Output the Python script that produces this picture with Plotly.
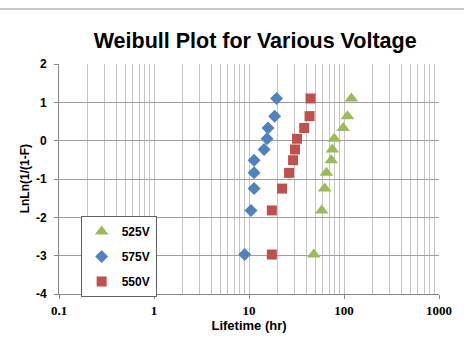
import plotly.graph_objects as go

# Lifetime (hr) and LnLn(1/(1-F))
t_525 = [48.1, 58.3, 62.6, 65.3, 73.6, 75.4, 79.0, 98.1, 108.7, 119.7]
t_575 = [9.0, 10.5, 11.3, 11.3, 11.3, 14.4, 15.5, 15.85, 18.6, 19.5]
t_550 = [17.4, 17.4, 22.3, 26.4, 29.1, 30.5, 32.0, 38.1, 43.4, 44.4]
y_vals = [-2.97, -1.82, -1.25, -0.84, -0.51, -0.23, 0.05, 0.33, 0.64, 1.10]

series_names = ["525V", "575V", "550V"]
series_times = [t_525, t_575, t_550]
series_colors = ["#9BBB59", "#4F81BD", "#C0504D"]
series_symbols = ["triangle-up", "diamond", "square"]
series_sizes = [12, 10, 10]

x_ticks = [0.1, 1, 10, 100, 1000]
x_ticklabels = ["0.1", "1", "10", "100", "1000"]
y_ticks = [2, 1, 0, -1, -2, -3, -4]

fig = go.Figure()
for i, (name, t, c, s, sz) in enumerate(zip(series_names, series_times, series_colors,
                                           series_symbols, series_sizes)):
    fig.add_trace(go.Scatter(
        x=t, y=y_vals, mode="markers", name=f"<b>{name}</b>", legendgroup=name,
        marker=dict(color=c, symbol=s, size=sz, line=dict(width=0)),
    ))

fig.update_layout(
    width=464, height=348,
    margin=dict(l=59, r=21, t=64, b=54),
    paper_bgcolor="white", plot_bgcolor="white",
    title=dict(text="<b>Weibull Plot for Various Voltage</b>", x=0.55, xanchor="center",
               y=0.885, yanchor="middle",
               font=dict(family="Liberation Sans, Arial", size=21.5, color="black")),
    font=dict(family="Liberation Sans, Arial", color="black"),
    showlegend=True,
    legend=dict(x=0.057, y=0.339, xanchor="left", yanchor="top",
                bgcolor="white", bordercolor="#606060", borderwidth=1,
                font=dict(family="Liberation Sans, Arial", size=12, color="black"),
                tracegroupgap=6, itemwidth=30),
    shapes=[dict(type="line", xref="paper", yref="paper", x0=-0.2, x1=1.2,
                 y0=(348 - 9 - 54) / (348 - 64 - 54), y1=(348 - 9 - 54) / (348 - 64 - 54),
                 line=dict(color="#909090", width=1))],
    annotations=[dict(text="<b>LnLn(1/(1-F)</b>", xref="paper", yref="paper",
                      x=(25 - 59) / 384, y=0.5, xanchor="center", yanchor="middle",
                      textangle=-90, showarrow=False,
                      font=dict(family="Liberation Sans, Arial", size=12, color="black"))],
)

fig.update_xaxes(
    type="log", range=[-1, 3],
    tickvals=x_ticks, ticktext=[f"<b>{v}</b>" for v in x_ticklabels],
    tickfont=dict(family="Liberation Serif", size=13, color="black"),
    ticks="outside", ticklen=4, tickcolor="#868686",
    showline=True, linecolor="#868686", linewidth=1,
    showgrid=True, gridcolor="#c4c4c4", gridwidth=1,
    minor=dict(dtick="D1", showgrid=True, gridcolor="#c4c4c4", gridwidth=1, ticks=""),
    title=dict(text="<b>Lifetime (hr)</b>", standoff=4,
               font=dict(family="Liberation Sans, Arial", size=13, color="black")),
    zeroline=False, mirror=False,
)
fig.update_yaxes(
    range=[-4, 2], tickvals=y_ticks, ticktext=[f"<b>{v}</b>" for v in y_ticks],
    tickfont=dict(family="Liberation Sans, Arial", size=12, color="black"),
    ticks="outside", ticklen=4, tickcolor="#868686", ticklabelstandoff=5,
    showline=True, linecolor="#868686", linewidth=1,
    showgrid=True, gridcolor="#a0a0a0", gridwidth=1,
    zeroline=False,
)

fig.write_html("out.html")
